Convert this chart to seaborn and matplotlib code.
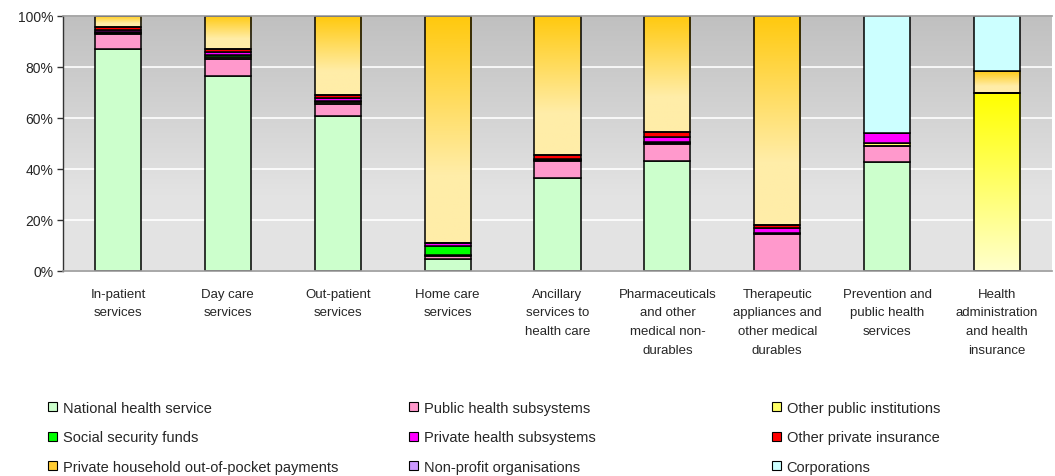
import numpy as np
import pandas as pd
import matplotlib
matplotlib.use("Agg")
import matplotlib.pyplot as plt
import seaborn as sns
from matplotlib.patches import Rectangle
from matplotlib.ticker import PercentFormatter
from matplotlib.colors import to_rgb

categories = ["In-patient\nservices", "Day care\nservices", "Out-patient\nservices",
              "Home care\nservices", "Ancillary\nservices to\nhealth care",
              "Pharmaceuticals\nand other\nmedical non-\ndurables",
              "Therapeutic\nappliances and\nother medical\ndurables",
              "Prevention and\npublic health\nservices",
              "Health\nadministration\nand health\ninsurance"]

series_names = ["National health service", "Public health subsystems", "Other public institutions",
                "Social security funds", "Private health subsystems", "Other private insurance",
                "Private household out-of-pocket payments", "Non-profit organisations", "Corporations"]

nhs = [86.9, 76.5, 60.8, 4.7, 36.4, 43.1, 0.0, 42.6, 0.0]
public_sub = [5.9, 6.5, 4.5, 1.0, 6.6, 6.5, 14.4, 6.5, 0.0]
other_public = [0.4, 0.8, 1.0, 0.5, 0.5, 0.5, 0.3, 1.0, 69.6]
social_sec = [0.3, 0.8, 0.3, 3.6, 0.5, 0.3, 0.3, 0.2, 0.0]
private_sub = [0.9, 1.2, 1.0, 1.0, 0.0, 2.0, 2.0, 3.6, 0.0]
other_priv_ins = [1.2, 1.0, 1.5, 0.3, 1.4, 1.9, 1.0, 0.0, 0.0]
oop = [4.4, 13.2, 30.9, 88.9, 54.6, 45.7, 82.0, 0.0, 8.9]
non_profit = [0.0, 0.0, 0.0, 0.0, 0.0, 0.0, 0.0, 0.0, 0.0]
corporations = [0.0, 0.0, 0.0, 0.0, 0.0, 0.0, 0.0, 46.1, 21.5]

series_values = [nhs, public_sub, other_public, social_sec, private_sub,
                 other_priv_ins, oop, non_profit, corporations]
colors = ["#CCFFCC", "#FF99CC", "#FFFF66", "#00FF00", "#FF00FF",
          "#FF0000", "#FFCC33", "#CC99FF", "#CCFFFF"]
# gradients (bottom colour, top colour, fraction where gradient starts)
gradients = {2: ("#FFFFCC", "#FFFF00", 0.0), 6: ("#FFEDA8", "#FFC90E", 0.3)}

sns.set_theme(style="white")
plt.rcParams['font.family'] = ['Liberation Sans Narrow', 'Liberation Sans', 'DejaVu Sans']

fig = plt.figure(figsize=(10.55, 4.77), dpi=100)
ax = fig.add_axes([63/1055, 1-272/477, (1052-63)/1055, (272-16.7)/477])

# background gradient
bg_top = np.array(to_rgb("#C0C0C0"))
bg_bot = np.array(to_rgb("#E3E3E3"))
t = np.linspace(0, 1, 256)[:, None]  # 0 bottom, 1 top
tt = np.clip((t - 0.3) / 0.7, 0, 1)
bg = bg_bot[None, :] * (1 - tt) + bg_top[None, :] * tt
ax.imshow(bg[:, None, :], extent=[0, 1, 0, 1], transform=ax.transAxes,
          origin="lower", aspect="auto", zorder=-10)

df = pd.DataFrame({"category": categories})
bottom = np.zeros(len(categories))
for i, (name, vals) in enumerate(zip(series_names, series_values)):
    n_before = len(ax.patches)
    df["value"] = vals
    sns.barplot(data=df, x="category", y="value", bottom=bottom, color=colors[i],
                saturation=1, width=0.42, edgecolor="black", linewidth=1.1,
                ax=ax, zorder=2)
    new = ax.patches[n_before:]
    if i in gradients:
        cb, ct, start = gradients[i]
        cb = np.array(to_rgb(cb)); ct = np.array(to_rgb(ct))
        g = np.linspace(0, 1, 128)[:, None]
        gg = np.clip((g - start) / (1 - start), 0, 1)
        arr = cb[None, :] * (1 - gg) + ct[None, :] * gg
        for p in new:
            if p.get_height() <= 0:
                continue
            p.set_facecolor("none")
            x0, y0 = p.get_x(), p.get_y()
            im = ax.imshow(arr[:, None, :], extent=[x0, x0 + p.get_width(), y0, y0 + p.get_height()],
                           origin="lower", aspect="auto", zorder=1.9)
            im.set_clip_path(p)
    bottom = bottom + np.array(vals)

ax.set_xlim(-0.5, len(categories) - 0.5)
ax.set_ylim(0, 100)
ax.set_yticks([0, 20, 40, 60, 80, 100])
ax.yaxis.set_major_formatter(PercentFormatter(decimals=0))
ax.grid(axis="y", color="white", linewidth=1.2, zorder=0.5)
ax.grid(axis="x", visible=False)
ax.set_axisbelow(True)
ax.set_xlabel("")
ax.set_ylabel("")
ax.tick_params(axis="y", length=4, width=1, color="#333333", labelsize=10, pad=3, left=True)
ax.tick_params(axis="x", length=0, labelsize=9.5, pad=12)
for lab in ax.get_xticklabels():
    lab.set_linespacing(1.75)
for s in ["top", "bottom"]:
    ax.spines[s].set_color("#999999")
    ax.spines[s].set_linewidth(1.2)
ax.spines["left"].set_color("#333333")
ax.spines["left"].set_linewidth(1.0)
ax.spines["right"].set_visible(False)

# legend in three columns
col_x = [48/1055, 409/1055, 772/1055]
for c in range(3):
    idxs = [c, c + 3, c + 6]
    handles = [Rectangle((0, 0), 1, 1, facecolor=colors[k], edgecolor="black", linewidth=0.8) for k in idxs]
    fig.legend(handles, [series_names[k] for k in idxs], loc="upper left",
               bbox_to_anchor=(col_x[c], 1 - 402/477), frameon=False, fontsize=10.5,
               handlelength=0.6, handleheight=0.6, handletextpad=0.4,
               labelspacing=1.05, borderaxespad=0, borderpad=0)

fig.savefig("out.png", dpi=100)
